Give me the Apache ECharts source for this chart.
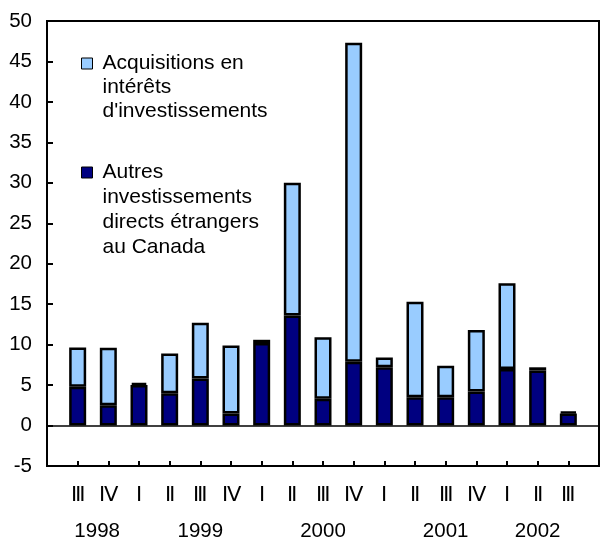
<!DOCTYPE html>
<html>
<head>
<meta charset="utf-8">
<script src="https://cdn.jsdelivr.net/npm/echarts@6/dist/echarts.min.js"></script>
<style>
  html, body { margin: 0; padding: 0; background: #fff; }
  #main { width: 602px; height: 542px; }
</style>
</head>
<body>
<div id="main"></div>
<script>
(function () {

  // quarters 1998 III .. 2002 III
  var quarters = ['Ⅲ', 'Ⅳ', 'Ⅰ', 'Ⅱ', 'Ⅲ', 'Ⅳ', 'Ⅰ', 'Ⅱ', 'Ⅲ', 'Ⅳ', 'Ⅰ', 'Ⅱ', 'Ⅲ', 'Ⅳ', 'Ⅰ', 'Ⅱ', 'Ⅲ'];
  var years = ['1998', '', '', '', '1999', '', '', '', '2000', '', '', '', '2001', '', '', '2002', ''];
  var otherFDI = [4.8, 2.5, 5.0, 4.0, 5.8, 1.5, 10.2, 13.6, 3.3, 7.9, 7.2, 3.5, 3.5, 4.2, 7.0, 6.8, 1.5];
  var acquisitions = [4.85, 7.1, 0.3, 4.9, 6.9, 8.4, 0.4, 16.4, 7.6, 39.4, 1.2, 11.8, 3.9, 7.6, 10.6, 0.4, 0.2];
  var yTicks = { min: -5, max: 50, step: 5 };

  var nameAcq = 'Acquisitions en\nintérêts\nd\'investissements';
  var nameOther = 'Autres\ninvestissements\ndirects étrangers\nau Canada';

  // empty slot on each side so the bars sit one step in from the axis
  function pad(arr, v) { return [v].concat(arr, [v]); }

  // legend text is centred on the icon, so push it down with blank lines
  // until the first line sits beside the square
  function topAligned(name) {
    var n = name.split('\n').length;
    return new Array(n).join('\n') + name;
  }

  var font = 'Liberation Sans, Arial, sans-serif';
  var myChart = echarts.init(document.getElementById('main'));

  function legendBlock(name, top, lineHeight) {
    return {
      data: [name],
      formatter: topAligned,
      orient: 'vertical',
      left: 81,
      top: top,
      padding: 0,
      itemWidth: 11,
      itemHeight: 11,
      icon: 'rect',
      itemStyle: { borderWidth: 1, borderColor: '#000' },
      textStyle: { fontFamily: font, fontSize: 21, lineHeight: lineHeight, color: '#000', padding: [0, 0, 0, 5] },
      selectedMode: false
    };
  }

  var option = {
    animation: false,
    backgroundColor: '#fff',
    grid: {
      show: true,
      left: 47,
      right: -3,
      top: 21,
      bottom: 76,
      borderColor: '#000',
      borderWidth: 2,
      backgroundColor: 'transparent'
    },
    legend: [
      legendBlock(nameAcq, 3.5, 24),
      legendBlock(nameOther, 85, 25)
    ],
    xAxis: [{
      type: 'category',
      data: pad(quarters, ''),
      boundaryGap: false,
      axisLine: { onZero: false, lineStyle: { color: '#000', width: 2 } },
      axisTick: { inside: true, length: 5, interval: 0, lineStyle: { color: '#000', width: 2 } },
      axisLabel: { interval: 0, margin: 19, color: '#000', fontFamily: font, fontSize: 20.5 },
      splitLine: { show: false }
    }, {
      type: 'category',
      position: 'bottom',
      data: pad(years, ''),
      boundaryGap: false,
      axisLine: { show: false, onZero: false },
      axisTick: { show: false },
      axisLabel: {
        interval: 0,
        margin: 55,
        color: '#000',
        fontFamily: font,
        fontSize: 20.5,
        formatter: function (v) { return v === '1998' ? '{s|' + v + '}' : v; },
        rich: { s: { padding: [0, 0, 0, 39], fontFamily: font, fontSize: 20.5, color: '#000' } }
      },
      splitLine: { show: false }
    }],
    yAxis: {
      type: 'value',
      min: yTicks.min,
      max: yTicks.max,
      interval: yTicks.step,
      axisLine: { show: true, lineStyle: { color: '#000', width: 2 } },
      axisTick: { show: true, inside: true, length: 6, lineStyle: { color: '#000', width: 2 } },
      axisLabel: { margin: 15, color: '#000', fontFamily: font, fontSize: 20.5 },
      splitLine: { show: false }
    },
    series: [{
      name: nameOther,
      type: 'bar',
      stack: 'fdi',
      barWidth: 17,
      data: pad(otherFDI, null),
      itemStyle: { color: '#000080', borderColor: '#000', borderWidth: 2.5 },
      markLine: {
        silent: true,
        symbol: ['none', 'none'],
        label: { show: false },
        lineStyle: { color: '#000', width: 1.5, type: 'solid' },
        data: [{ yAxis: 0 }]
      }
    }, {
      name: nameAcq,
      type: 'bar',
      stack: 'fdi',
      barWidth: 17,
      data: pad(acquisitions, null),
      itemStyle: { color: '#99CCFF', borderColor: '#000', borderWidth: 2.5 }
    }]
  };

  myChart.setOption(option);

})();
</script>
</body>
</html>
